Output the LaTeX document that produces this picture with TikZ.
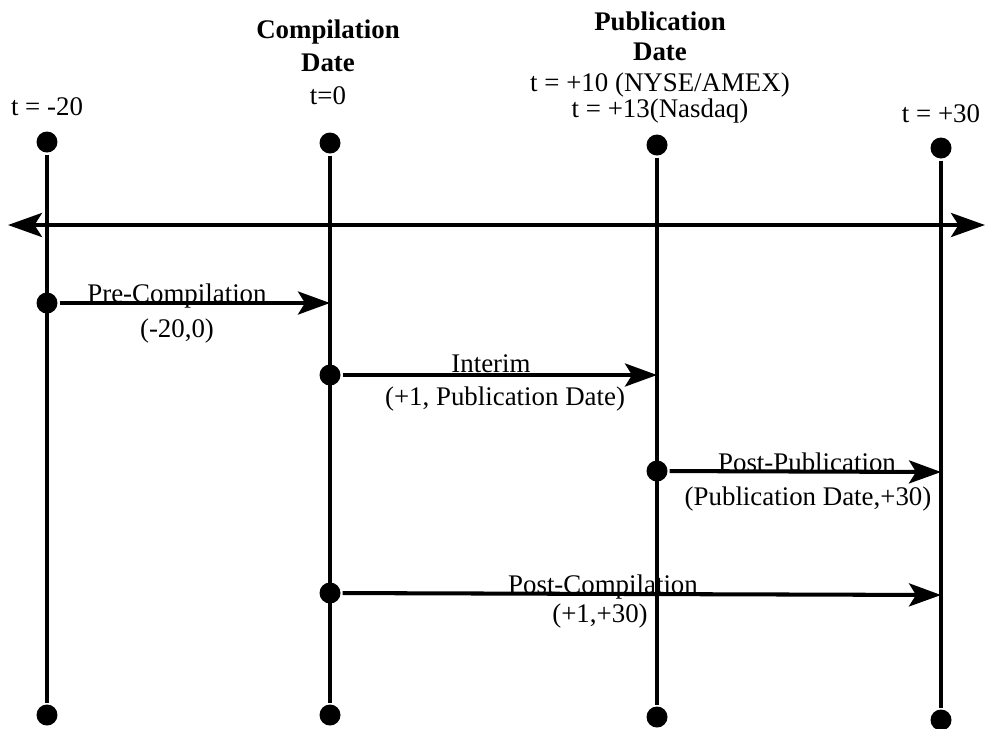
\documentclass[tikz,border=0pt]{standalone}
\usepackage{fontspec}
\setmainfont{Liberation Serif}
\usetikzlibrary{positioning, arrows.meta}

\begin{document}
\begin{tikzpicture}[x=0.02cm, y=-0.02cm, line width=2.3pt,
  dot/.style={circle, fill=black, inner sep=0pt, minimum size=0.42cm},
  lab/.style={inner sep=0pt, anchor=base, font=\fontsize{15.3}{18}\selectfont},
  head/.style={align=center, inner sep=0pt, anchor=south, text depth=0pt},
  span/.style={-{Stealth[length=0.64cm, width=0.46cm, inset=0.14cm]}}]
  \useasboundingbox (0,0) rectangle (986,728);
  % the four dates
  \foreach \n/\x/\a/\b in {pre/47/142/715, comp/330/143/715, pub/657/145/717, post/941/148/720}{
    \node[dot] (\n-top) at (\x,\a) {};
    \node[dot] (\n-bot) at (\x,\b) {};
    \draw (\n-top) -- (\n-bot);
  }
  \coordinate (tl-left) at (8,225);
  \coordinate (tl-right) at (985,225);
  \draw[{Stealth[length=0.68cm, width=0.48cm, inset=0.15cm]}-{Stealth[length=0.68cm, width=0.48cm, inset=0.15cm]}] (tl-left) -- (tl-right);
  \node[lab] (d-pre) at (47,115) {t = -20};
  \node[head, font=\fontsize{15.3}{19}\selectfont] (d-comp) at (328,107) {\textbf{Compilation}\\\textbf{Date}\\t=0};
  \node[head, font=\fontsize{15.3}{17.5}\selectfont] (d-pub) at (660,120) {\textbf{Publication}\\\textbf{Date}\\t = +10 (NYSE/AMEX)\\[-2.5pt]t = +13(Nasdaq)};
  \node[lab] (d-post) at (941,122) {t = +30};
  % the windows
  \foreach \s/\a/\b/\e/\y in {w1/47/303/330/303, w2/330/375/657/375, w3/657/471/941/472, w4/330/593/941/595}{
    \node[dot] (\s-start) at (\a,\b) {};
    \coordinate (\s-end) at (\e,\y);
    \draw[span] (\s-start) -- (\s-end);
  }
  \node[lab] (w1-name) at (177,302) {Pre-Compilation};
  \node[lab] (w1-days) at (177,337) {(-20,0)};
  \node[lab] (w2-name) at (491,372) {Interim};
  \node[lab] (w2-days) at (505,405) {(+1, Publication Date)};
  \node[lab] (w3-name) at (807,471) {Post-Publication};
  \node[lab] (w3-days) at (808,505) {(Publication Date,+30)};
  \node[lab] (w4-name) at (603,593) {Post-Compilation};
  \node[lab] (w4-days) at (600,622) {(+1,+30)};
\end{tikzpicture}
\end{document}
